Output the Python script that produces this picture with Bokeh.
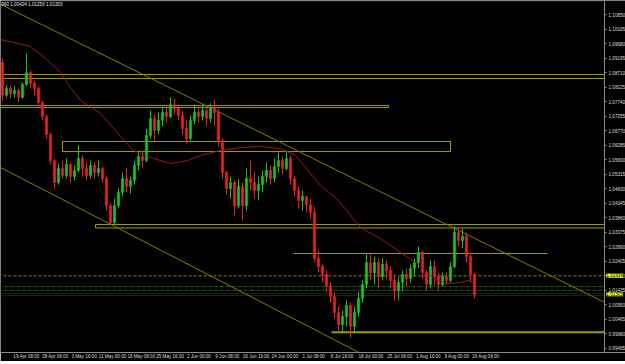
from bokeh.plotting import figure
from bokeh.models import Range1d, FixedTicker, PrintfTickFormatter, Label
from bokeh.embed import file_html
from bokeh.resources import INLINE

header_text = "990 1.00424 1.01250 1.01303"

first_open = 1.0905
close = [1.0795, 1.0818, 1.0801, 1.0811, 1.0788, 1.0831, 1.0871, 1.0835, 1.0818, 1.0771,
         1.0724, 1.0664, 1.0577, 1.0504, 1.0551, 1.0527, 1.0564, 1.0524, 1.0544, 1.0584,
         1.0551, 1.0527, 1.0561, 1.0537, 1.0551, 1.0517, 1.0427, 1.0370, 1.0427, 1.0471,
         1.0517, 1.0491, 1.0511, 1.0561, 1.0591, 1.0577, 1.0661, 1.0718, 1.0678, 1.0711,
         1.0738, 1.0724, 1.0764, 1.0751, 1.0728, 1.0684, 1.0651, 1.0711, 1.0738, 1.0724,
         1.0744, 1.0718, 1.0751, 1.0738, 1.0644, 1.0537, 1.0484, 1.0504, 1.0427, 1.0491,
         1.0427, 1.0517, 1.0504, 1.0477, 1.0497, 1.0524, 1.0544, 1.0517, 1.0557, 1.0577,
         1.0551, 1.0584, 1.0517, 1.0477, 1.0444, 1.0457, 1.0430, 1.0404, 1.0250, 1.0223,
         1.0197, 1.0157, 1.0123, 1.0070, 1.0030, 1.0056, 1.0093, 1.0023, 1.0070, 1.0117,
         1.0163, 1.0237, 1.0203, 1.0237, 1.0190, 1.0230, 1.0210, 1.0177, 1.0143, 1.0170,
         1.0197, 1.0183, 1.0217, 1.0237, 1.0270, 1.0203, 1.0163, 1.0223, 1.0190, 1.0163,
         1.0190, 1.0177, 1.0223, 1.0337, 1.0310, 1.0324, 1.0257, 1.0197, 1.0130]
high = [1.0918, 1.0828, 1.0825, 1.0825, 1.0818, 1.0838, 1.0935, 1.0878, 1.0845, 1.0825,
        1.0778, 1.0731, 1.0671, 1.0584, 1.0567, 1.0577, 1.0584, 1.0571, 1.0561, 1.0628,
        1.0594, 1.0571, 1.0577, 1.0571, 1.0577, 1.0557, 1.0524, 1.0434, 1.0450, 1.0484,
        1.0537, 1.0551, 1.0524, 1.0577, 1.0611, 1.0611, 1.0684, 1.0744, 1.0731, 1.0738,
        1.0758, 1.0764, 1.0788, 1.0784, 1.0764, 1.0744, 1.0711, 1.0728, 1.0764, 1.0758,
        1.0764, 1.0758, 1.0768, 1.0778, 1.0751, 1.0651, 1.0544, 1.0524, 1.0511, 1.0517,
        1.0504, 1.0551, 1.0577, 1.0537, 1.0524, 1.0544, 1.0571, 1.0561, 1.0584, 1.0604,
        1.0591, 1.0611, 1.0594, 1.0527, 1.0491, 1.0477, 1.0457, 1.0450, 1.0424, 1.0277,
        1.0230, 1.0210, 1.0170, 1.0137, 1.0090, 1.0076, 1.0110, 1.0103, 1.0090, 1.0137,
        1.0177, 1.0267, 1.0264, 1.0257, 1.0250, 1.0250, 1.0243, 1.0223, 1.0197, 1.0190,
        1.0210, 1.0217, 1.0230, 1.0250, 1.0290, 1.0277, 1.0210, 1.0243, 1.0243, 1.0203,
        1.0203, 1.0203, 1.0237, 1.0357, 1.0354, 1.0350, 1.0337, 1.0270, 1.0203]
low = [1.0778, 1.0788, 1.0784, 1.0788, 1.0771, 1.0784, 1.0825, 1.0818, 1.0795, 1.0758,
       1.0711, 1.0651, 1.0564, 1.0484, 1.0497, 1.0517, 1.0517, 1.0504, 1.0511, 1.0537,
       1.0524, 1.0511, 1.0517, 1.0517, 1.0524, 1.0504, 1.0410, 1.0364, 1.0364, 1.0417,
       1.0457, 1.0471, 1.0467, 1.0497, 1.0544, 1.0551, 1.0571, 1.0651, 1.0644, 1.0664,
       1.0691, 1.0704, 1.0718, 1.0731, 1.0711, 1.0664, 1.0634, 1.0644, 1.0698, 1.0704,
       1.0711, 1.0691, 1.0704, 1.0694, 1.0624, 1.0517, 1.0464, 1.0450, 1.0394, 1.0417,
       1.0377, 1.0410, 1.0477, 1.0450, 1.0444, 1.0471, 1.0504, 1.0497, 1.0504, 1.0537,
       1.0531, 1.0544, 1.0497, 1.0457, 1.0417, 1.0410, 1.0404, 1.0384, 1.0237, 1.0203,
       1.0170, 1.0137, 1.0103, 1.0050, 1.0010, 1.0003, 1.0023, 0.9986, 1.0003, 1.0056,
       1.0103, 1.0150, 1.0177, 1.0163, 1.0150, 1.0177, 1.0183, 1.0150, 1.0110, 1.0110,
       1.0143, 1.0157, 1.0170, 1.0190, 1.0217, 1.0183, 1.0143, 1.0150, 1.0157, 1.0143,
       1.0157, 1.0163, 1.0170, 1.0217, 1.0290, 1.0284, 1.0237, 1.0170, 1.0117]

price_ticks = [1.10650, 1.10165, 1.09680, 1.09195, 1.08710, 1.08225, 1.07740, 1.07255,
               1.06770, 1.06285, 1.05800, 1.05315, 1.04830, 1.04345, 1.03860, 1.03375,
               1.02890, 1.02405, 1.01920, 1.01435, 1.00950, 1.00465, 0.99980, 0.99495]
time_ticks = [6.0, 13.2, 20.4, 27.5, 34.7, 41.9, 49.1, 56.2, 63.4, 70.6, 77.8, 84.9,
              92.1, 99.3, 106.5, 113.6, 120.8]
time_labels = ["19 Apr 08:00", "28 Apr 08:00", "3 May 16:00", "11 May 00:00", "18 May 08:00",
               "25 May 16:00", "2 Jun 00:00", "9 Jun 08:00", "16 Jun 16:00", "24 Jun 00:00",
               "1 Jul 08:00", "8 Jul 16:00", "18 Jul 00:00", "25 Jul 08:00", "1 Aug 16:00",
               "9 Aug 00:00", "16 Aug 08:00"]

ma_pos = [-0.5, 7, 10.75, 14.5, 16.25, 19.5, 24.5, 29.5, 32.75, 37, 42, 46.25, 49.5, 54.5,
          59.5, 64.5, 69.5, 73.25, 79.5, 84, 89.5, 95.25, 99.5, 103.75, 107.75, 111.25,
          114.5, 116.5, 117.75]
ma_val = [1.09815, 1.09582, 1.09181, 1.08713, 1.08346, 1.07778, 1.07344, 1.06576, 1.06108,
          1.05874, 1.05674, 1.05774, 1.05941, 1.06108, 1.06208, 1.06242, 1.06176, 1.05941,
          1.04939, 1.04438, 1.03536, 1.03102, 1.02701, 1.02334, 1.01833, 1.01666, 1.01699,
          1.01766, 1.01699]

AXIS_BAR = 150.5  # bar position of the price scale

trend_x0 = [-0.5, -0.5]
trend_y0 = [1.10995, 1.05540]
trend_x1 = [150.5, 150.5]
trend_y1 = [1.01035, 0.95129]

box_left = [-1, -0.5, 15, 23.25]
box_right = [150.5, 96.5, 112, 150.5]
box_top = [1.08646, 1.07611, 1.06409, 1.03636]
box_bottom = [1.08513, 1.07544, 1.06075, 1.03519]

level_val = [1.02668, 1.00040]
level_from = [72.75, 82.25]
level_to = [136.25, 150.5]

dash_levels = [1.01922]
green_levels = [1.01560, 1.01440]
dark_levels = [1.01332, 1.01265]

marker_vals = [1.01934, 1.01303]
marker_texts = ["1.01934", "1.01303"]

# ---------------------------------------------------------------
opens = [first_open] + close[:-1]
idx = list(range(len(close)))
hi = [max(h, o, c) for h, o, c in zip(high, opens, close)]
lo = [min(l, o, c) for l, o, c in zip(low, opens, close)]
body_top = [max(o, c) for o, c in zip(opens, close)]
body_bot = [min(o, c) for o, c in zip(opens, close)]
BULL, BEAR = "#1ec21e", "#e42222"
colors = [BULL if c >= o else BEAR for o, c in zip(opens, close)]

FONT = "Liberation Sans"
p = figure(frame_width=625, frame_height=352,
           x_range=Range1d(-0.5, 155.75), y_range=Range1d(0.99361, 1.11118),
           output_backend="svg", toolbar_location=None, y_axis_location="right",
           min_border=0, min_border_left=0, min_border_top=0,
           min_border_right=0, min_border_bottom=0,
           background_fill_color="black", border_fill_color="black",
           outline_line_color=None)
p.xgrid.visible = False
p.ygrid.visible = False

ya = p.yaxis[0]
ya.fixed_location = AXIS_BAR
ya.ticker = FixedTicker(ticks=price_ticks)
ya.formatter = PrintfTickFormatter(format="%.5f")
ya.major_label_text_font = FONT
ya.major_label_text_font_size = "4.6px"
ya.major_label_text_color = "#dcdcdc"
ya.axis_line_color = "#8c8c8c"
ya.major_tick_line_color = "#8c8c8c"
ya.major_tick_in = 0
ya.major_tick_out = 2
ya.minor_tick_line_color = None
ya.major_label_standoff = 2

xa = p.xaxis[0]
xa.ticker = FixedTicker(ticks=time_ticks)
xa.major_label_overrides = {t: s for t, s in zip(time_ticks, time_labels)}
xa.major_label_text_font = FONT
xa.major_label_text_font_size = "4.6px"
xa.major_label_text_color = "#dcdcdc"
xa.axis_line_color = "#8c8c8c"
xa.major_tick_line_color = None
xa.major_tick_in = 0
xa.major_tick_out = 0
xa.minor_tick_line_color = None
xa.major_label_standoff = 1

OLIVE = "#9c9c00"
# top border of the chart window
p.segment(x0=[-1], y0=[1.11112], x1=[AXIS_BAR], y1=[1.11112], line_color="#8c8c8c", line_width=1)

# boxes and levels
p.quad(left=box_left, right=box_right, top=box_top, bottom=box_bottom,
       fill_color=None, line_color=OLIVE, line_width=1)
p.segment(x0=level_from, y0=level_val, x1=level_to, y1=level_val,
          line_color=OLIVE, line_width=[1.2, 2])
p.segment(x0=[-1] * len(dash_levels), y0=dash_levels, x1=[AXIS_BAR] * len(dash_levels),
          y1=dash_levels, line_color="#8a8a00", line_dash="3 2", line_width=1)
p.segment(x0=[-1] * len(green_levels), y0=green_levels, x1=[AXIS_BAR] * len(green_levels),
          y1=green_levels, line_color="#1f6e1f", line_dash="3 1 1 1", line_width=1)
p.segment(x0=[-1] * len(dark_levels), y0=dark_levels, x1=[AXIS_BAR] * len(dark_levels),
          y1=dark_levels, line_color="#3d4a1a", line_dash="1 1", line_width=1)

# trend channel
p.segment(x0=trend_x0, y0=trend_y0, x1=trend_x1, y1=trend_y1,
          line_color="#7d7d00", line_width=1)

# candles
p.segment(x0=idx, y0=hi, x1=idx, y1=lo, line_color=colors, line_width=1)
p.vbar(x=idx, width=0.55, top=body_top, bottom=body_bot,
       fill_color=colors, line_color=colors, line_width=0.6)

# moving average
p.line(ma_pos, ma_val, line_color="#9a1a1a", line_width=1)

for v, t in zip(marker_vals, marker_texts):
    p.add_layout(Label(x=AXIS_BAR + 0.45, y=v, text=t, text_font=FONT,
                       text_font_size="4.6px", text_color="black", text_baseline="middle",
                       background_fill_color="#ffff00"))

p.add_layout(Label(x=-0.3, y=1.1098, text=header_text, text_font=FONT,
                   text_font_size="4.6px", text_color="#e0e0e0", text_baseline="middle"))

open("out.html", "w").write(file_html(p, INLINE))
